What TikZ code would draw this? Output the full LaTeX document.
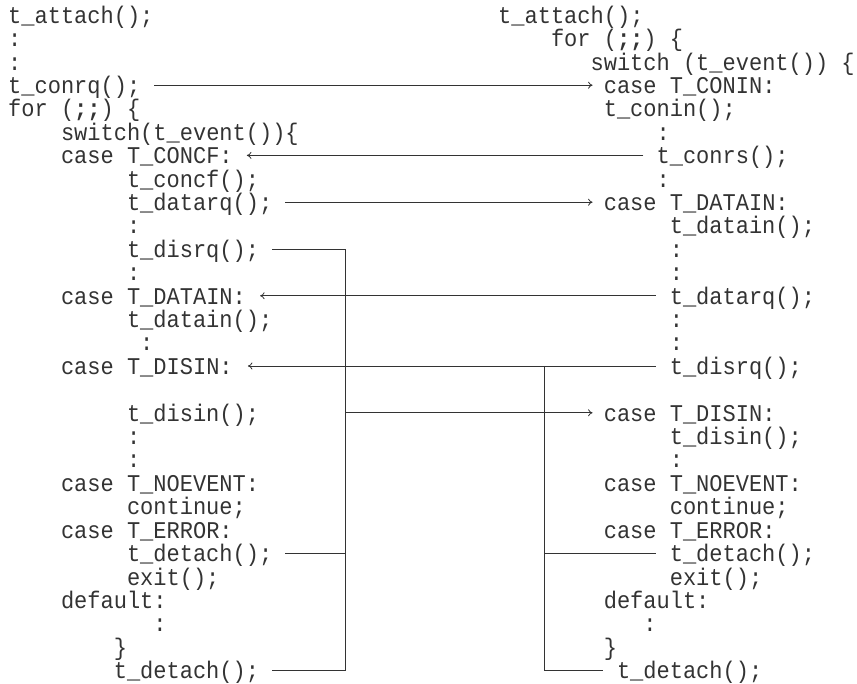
\documentclass[tikz,border=0pt]{standalone}
\usepackage{fontspec}
\newfontfamily\codefont[FakeStretch=0.917, BoldFont={Liberation Mono Bold}]{Liberation Mono}
\usetikzlibrary{arrows.meta}

\tikzset{
  code/.style={anchor=base west, inner sep=0pt, text height=16.8pt, text depth=0pt,
    font=\codefont\fontsize{24}{24}\selectfont, text=black!80},
  link/.style={line width=0.8pt, draw=black!80},
  >={To[length=4.5pt,width=7pt]}
}

\begin{document}
\begin{tikzpicture}[x=13.2pt, y=-23.4pt]
  \path[use as bounding box] (0pt,0pt) rectangle (857pt,-684pt);
  \coordinate (busL) at (345pt,0pt);
  \coordinate (busR) at (544pt,0pt);

  % sender side
  \begin{scope}[xshift=8pt]
    \node[code] (attachL) at (0,1) {t\_attach();};
    \node[code] (dotL1) at (0,2) {:};
    \node[code] (dotL2) at (0,3) {:};
    \node[code] (conrq) at (0,4) {t\_conrq();};
    \node[code] (forL) at (0,5) {for (\textbf{;;}) \{};
    \node[code] (switchL) at (4,6) {switch(t\_event())\{};
    \node[code] (concf) at (4,7) {case T\_CONCF:};
    \node[code] (concfcall) at (9,8) {t\_concf();};
    \node[code] (datarqL) at (9,9) {t\_datarq();};
    \node[code] (dotL3) at (9,10) {:};
    \node[code] (disrqL) at (9,11) {t\_disrq();};
    \node[code] (dotL4) at (9,12) {:};
    \node[code] (caseDatainL) at (4,13) {case T\_DATAIN:};
    \node[code] (datainL) at (9,14) {t\_datain();};
    \node[code] (dotL5) at (10,15) {:};
    \node[code] (caseDisinL) at (4,16) {case T\_DISIN:};
    \node[code] (disinL) at (9,18) {t\_disin();};
    \node[code] (dotL6) at (9,19) {:};
    \node[code] (dotL7) at (9,20) {:};
    \node[code] (noeventL) at (4,21) {case T\_NOEVENT:};
    \node[code] (continueL) at (9,22) {continue;};
    \node[code] (errorL) at (4,23) {case T\_ERROR:};
    \node[code] (detachLa) at (9,24) {t\_detach();};
    \node[code] (exitL) at (9,25) {exit();};
    \node[code] (defaultL) at (4,26) {default:};
    \node[code] (dotL8) at (11,27) {:};
    \node[code] (braceL) at (8,28) {\}};
    \node[code] (detachLb) at (8,29) {t\_detach();};
  \end{scope}

  % receiver side
  \begin{scope}[xshift=498pt]
    \node[code] (attachR) at (0,1) {t\_attach();};
    \node[code] (forR) at (4,2) {for (\textbf{;;}) \{};
    \node[code] (switchR) at (7,3) {switch (t\_event()) \{};
    \node[code] (conin) at (8,4) {case T\_CONIN:};
    \node[code] (conincall) at (8,5) {t\_conin();};
    \node[code] (dotR1) at (12,6) {:};
    \node[code] (conrs) at (12,7) {t\_conrs();};
    \node[code] (dotR2) at (12,8) {:};
    \node[code] (caseDatainR) at (8,9) {case T\_DATAIN:};
    \node[code] (datainR) at (13,10) {t\_datain();};
    \node[code] (dotR3) at (13,11) {:};
    \node[code] (dotR4) at (13,12) {:};
    \node[code] (datarqR) at (13,13) {t\_datarq();};
    \node[code] (dotR5) at (13,14) {:};
    \node[code] (dotR6) at (13,15) {:};
    \node[code] (disrqR) at (13,16) {t\_disrq();};
    \node[code] (caseDisinR) at (8,18) {case T\_DISIN:};
    \node[code] (disinR) at (13,19) {t\_disin();};
    \node[code] (dotR7) at (13,20) {:};
    \node[code] (noeventR) at (8,21) {case T\_NOEVENT:};
    \node[code] (continueR) at (13,22) {continue;};
    \node[code] (errorR) at (8,23) {case T\_ERROR:};
    \node[code] (detachRa) at (13,24) {t\_detach();};
    \node[code] (exitR) at (13,25) {exit();};
    \node[code] (defaultR) at (8,26) {default:};
    \node[code] (dotR8) at (11,27) {:};
    \node[code] (braceR) at (8,28) {\}};
    \node[code] (detachRb) at (9,29) {t\_detach();};
  \end{scope}

  \draw[link,->] ([xshift=14pt]conrq.east) -- ([xshift=-11pt]conin.west);
  \draw[link,->] ([xshift=-13pt]conrs.west) -- ([xshift=14pt]concf.east);
  \draw[link,->] ([xshift=13pt]datarqL.east) -- ([xshift=-11pt]caseDatainR.west);
  \draw[link,->] ([xshift=-14pt]datarqR.west) -- ([xshift=14pt]caseDatainL.east);
  \draw[link,->] ([xshift=-14pt]disrqR.west) -- ([xshift=15pt]caseDisinL.east);

  \draw[link] ([xshift=13pt]disrqL.east) -- (disrqL.east -| busL)
    -- (detachLb.east -| busL) -- ([xshift=13pt]detachLb.east);
  \draw[link] ([xshift=13pt]detachLa.east) -- (detachLa.east -| busL);
  \draw[link,->] (disinL.east -| busL) -- ([xshift=-11pt]caseDisinR.west);

  \draw[link] (disrqR.west -| busR) -- (detachRb.west -| busR)
    -- ([xshift=-14pt]detachRb.west);
  \draw[link] ([xshift=-14pt]detachRa.west) -- (detachRa.west -| busR);
\end{tikzpicture}
\end{document}
